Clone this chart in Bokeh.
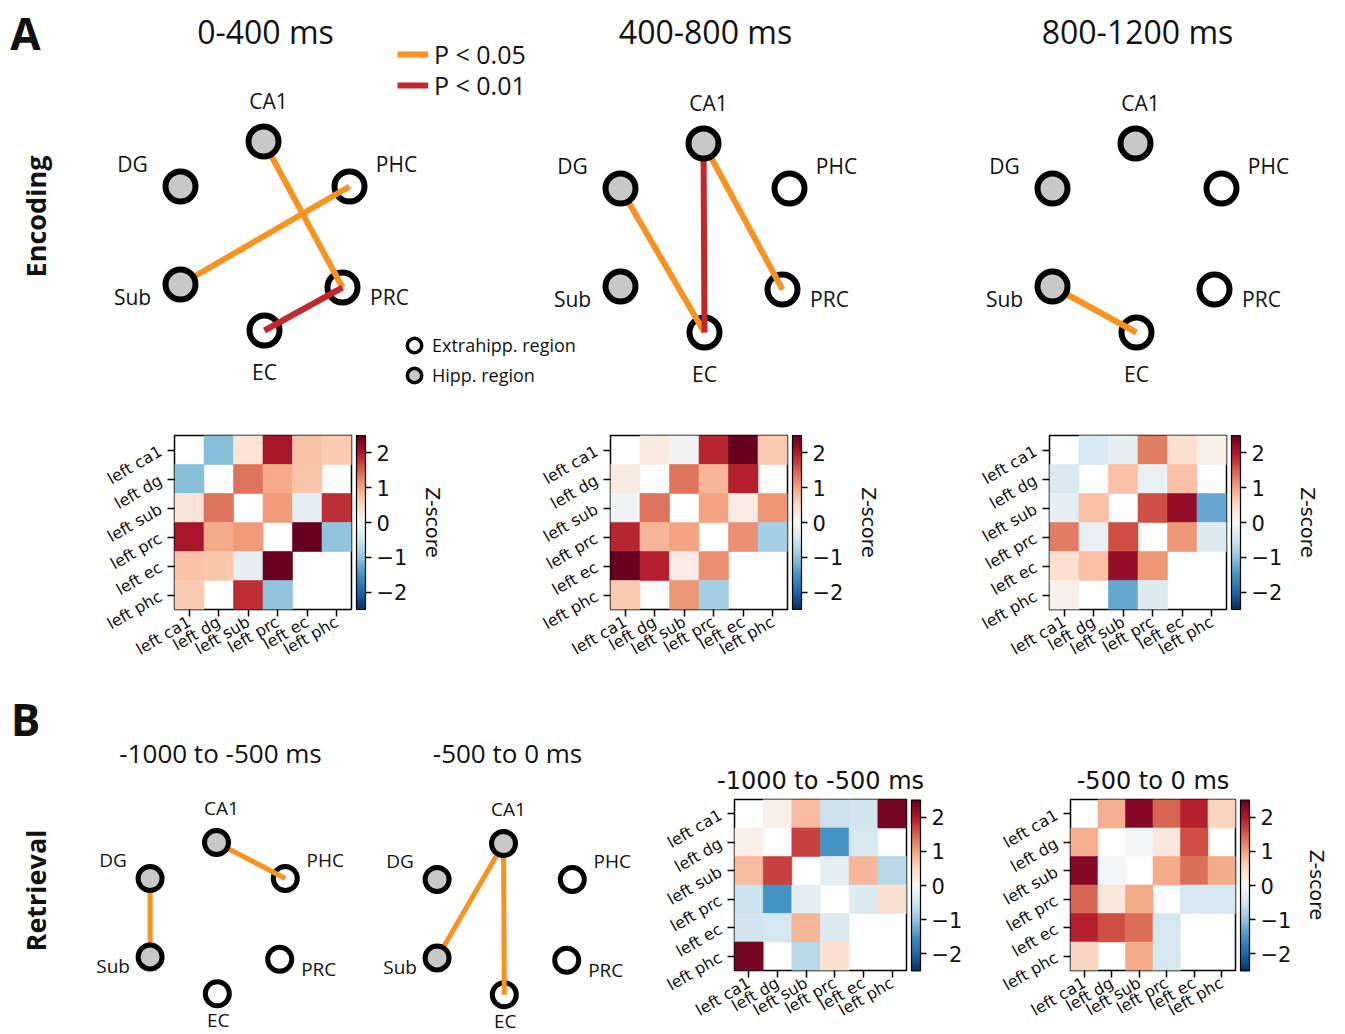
import math
import numpy as np
from bokeh.plotting import figure
from bokeh.models import (ColumnDataSource, Range1d, FactorRange, LinearColorMapper,
                          ColorBar, FixedTicker, Label, Legend, LegendItem, Title, Spacer,
                          CustomJSTickFormatter)
from bokeh.layouts import row, column
from bokeh.transform import transform
from bokeh.core.properties import value
from bokeh.embed import file_html
from bokeh.resources import INLINE

N = float("nan")

# ---------------- data ----------------
regions = ["left ca1", "left dg", "left sub", "left prc", "left ec", "left phc"]
node_names = ["CA1", "DG", "PHC", "Sub", "PRC", "EC"]
hipp_nodes = ["CA1", "DG", "Sub"]
extrahipp_nodes = ["PHC", "PRC", "EC"]

encoding_windows = ["0-400 ms", "400-800 ms", "800-1200 ms"]
retrieval_windows = ["-1000 to -500 ms", "-500 to 0 ms"]
sig_levels = ["P < 0.05", "P < 0.01"]
node_legend = ["Extrahipp. region", "Hipp. region"]

edges_enc_0_400 = [("CA1", "PRC", "P < 0.05"), ("Sub", "PHC", "P < 0.05"), ("EC", "PRC", "P < 0.01")]
edges_enc_400_800 = [("DG", "EC", "P < 0.05"), ("CA1", "EC", "P < 0.01"), ("CA1", "PRC", "P < 0.05")]
edges_enc_800_1200 = [("Sub", "EC", "P < 0.05")]
edges_ret_1000_500 = [("DG", "Sub", "P < 0.05"), ("CA1", "PHC", "P < 0.05")]
edges_ret_500_0 = [("CA1", "Sub", "P < 0.05"), ("CA1", "EC", "P < 0.05")]

z_enc_0_400 = [
    [N, -1.05, 0.35, 2.05, 0.72, 0.65],
    [-1.05, N, 1.35, 0.95, 0.68, N],
    [0.35, 1.35, N, 1.05, -0.25, 1.85],
    [2.05, 0.95, 1.05, N, 2.5, -1.0],
    [0.72, 0.68, -0.25, 2.5, N, N],
    [0.65, N, 1.85, -1.0, N, N],
]
z_enc_400_800 = [
    [N, 0.25, -0.1, 1.9, 2.5, 0.65],
    [0.25, N, 1.35, 0.85, 1.95, N],
    [-0.1, 1.35, N, 1.0, 0.2, 1.1],
    [1.9, 0.85, 1.0, N, 1.15, -0.85],
    [2.5, 1.95, 0.2, 1.15, N, N],
    [0.65, N, 1.1, -0.85, N, N],
]
z_enc_800_1200 = [
    [N, -0.4, -0.25, 1.3, 0.4, 0.15],
    [-0.4, N, 0.75, -0.2, 0.75, N],
    [-0.25, 0.75, N, 1.6, 2.2, -1.3],
    [1.3, -0.2, 1.6, N, 1.1, -0.35],
    [0.4, 0.75, 2.2, 1.1, N, N],
    [0.15, N, -1.3, -0.35, N, N],
]
z_ret_1000_500 = [
    [N, 0.15, 0.8, -0.55, -0.5, 2.4],
    [0.15, N, 1.7, -1.5, -0.45, N],
    [0.8, 1.7, N, -0.25, 0.85, -0.7],
    [-0.55, -1.5, -0.25, N, -0.35, 0.4],
    [-0.5, -0.45, 0.85, -0.35, N, N],
    [2.4, N, -0.7, 0.4, N, N],
]
z_ret_500_0 = [
    [N, 0.9, 2.3, 1.45, 1.95, 0.55],
    [0.9, N, -0.05, 0.3, 1.6, N],
    [2.3, -0.05, N, 0.95, 1.4, 0.95],
    [1.45, 0.3, 0.95, N, -0.45, -0.45],
    [1.95, 1.6, 1.4, -0.45, N, N],
    [0.55, N, 0.95, -0.45, N, N],
]
cbar_ticks = [-2, -1, 0, 1, 2]
z_limit = 2.5

# ---------------- style / layout ----------------
RDBU_ANCHORS = ["#053061", "#2166ac", "#4393c3", "#92c5de", "#d1e5f0", "#f7f7f7",
                "#fddbc7", "#f4a582", "#d6604d", "#b2182b", "#67001f"]


def interp_palette(anchors, n):
    rgb = [tuple(int(h[i:i + 2], 16) for i in (1, 3, 5)) for h in anchors]
    out = []
    for k in range(n):
        t = k / (n - 1) * (len(rgb) - 1)
        i = min(int(t), len(rgb) - 2)
        f = t - i
        c = [round(rgb[i][j] + (rgb[i + 1][j] - rgb[i][j]) * f) for j in range(3)]
        out.append("#%02x%02x%02x" % tuple(c))
    return out


PALETTE = interp_palette(RDBU_ANCHORS, 255)
EDGE_COLORS = {"P < 0.05": "#F7931E", "P < 0.01": "#C1272D"}
HIPP_FILL = "#c8c8c8"
NET_FONT = "Open Sans"
HM_FONT = "DejaVu Sans"
INK = "#111111"

NODE_OFFSETS = {"CA1": (0, 0), "DG": (-83, 45), "PHC": (86, 45),
                "Sub": (-83, 143), "PRC": (79, 146), "EC": (1, 189)}
LABEL_OFFSETS_A = {"CA1": (5, -41), "DG": (-48, -23), "PHC": (47, -23),
                   "Sub": (-48, 12), "PRC": (47, 9), "EC": (0, 41)}
LABEL_OFFSETS_B = {"CA1": (5, -35), "DG": (-37, -19), "PHC": (40, -19),
                   "Sub": (-37, 9), "PRC": (39, 10), "EC": (1, 26)}
A_ANCHORS = [(263, 141), (703, 143), (1135, 143)]
B_ANCHORS = [(216, 842), (503, 843)]


def draw_networks(p, anchors, edge_sets, scale, label_offsets, node_size, ring_w, edge_w, font_size):
    white = dict(x=[], y=[])
    gray = dict(x=[], y=[])
    labels = dict(x=[], y=[], text=[])
    edges = {lvl: dict(x0=[], y0=[], x1=[], y1=[]) for lvl in sig_levels}
    for (ax, ay), eset in zip(anchors, edge_sets):
        pos = {n: (ax + dx * scale, ay + dy * scale) for n, (dx, dy) in NODE_OFFSETS.items()}
        for n in node_names:
            tgt = gray if n in hipp_nodes else white
            tgt["x"].append(pos[n][0])
            tgt["y"].append(pos[n][1])
            lx, ly = label_offsets[n]
            labels["x"].append(pos[n][0] + lx)
            labels["y"].append(pos[n][1] + ly)
            labels["text"].append(n)
        for a, b, lvl in eset:
            e = edges[lvl]
            e["x0"].append(pos[a][0]); e["y0"].append(pos[a][1])
            e["x1"].append(pos[b][0]); e["y1"].append(pos[b][1])
    r_white = p.scatter(x="x", y="y", source=ColumnDataSource(white), marker="circle",
                        size=node_size, fill_color="white", line_color="black", line_width=ring_w)
    r_edges = {}
    for lvl in sig_levels:
        r_edges[lvl] = p.segment(x0="x0", y0="y0", x1="x1", y1="y1",
                                 source=ColumnDataSource(edges[lvl]),
                                 line_color=EDGE_COLORS[lvl], line_width=edge_w)
    r_gray = p.scatter(x="x", y="y", source=ColumnDataSource(gray), marker="circle",
                       size=node_size, fill_color=HIPP_FILL, line_color="black", line_width=ring_w)
    p.text(x="x", y="y", text="text", source=ColumnDataSource(labels),
           text_font=value(NET_FONT), text_font_size=font_size, text_color=INK,
           text_align="center", text_baseline="middle")
    return r_white, r_gray, r_edges


def blank_canvas(width, height, x0, y0):
    p = figure(width=width, height=height, x_range=Range1d(x0, x0 + width),
               y_range=Range1d(y0 + height, y0), output_backend="svg",
               toolbar_location=None, tools="", min_border=0, frame_align=False,
               x_axis_location=None, y_axis_location=None)
    p.grid.visible = False
    p.outline_line_color = None
    return p


def add_label(p, x, y, text, size, bold=False, angle=0.0, font=NET_FONT):
    p.add_layout(Label(x=x, y=y, text=text, angle=angle, text_font=font,
                       text_font_size=size, text_font_style="bold" if bold else "normal",
                       text_color=INK, text_align="center", text_baseline="middle"))


def single_legend(p, label, renderer, loc, glyph_w, glyph_h, standoff, size):
    p.add_layout(Legend(items=[LegendItem(label=label, renderers=[renderer])],
                        location=loc, glyph_width=glyph_w, glyph_height=glyph_h,
                        label_standoff=standoff, spacing=0, padding=0, margin=0,
                        label_text_font=NET_FONT, label_text_font_size=size,
                        label_text_color=INK, background_fill_alpha=0, border_line_alpha=0))


mapper = LinearColorMapper(palette=PALETTE, low=-z_limit, high=z_limit)


def heatmap(z, frame_w, frame_h, L, R, T, B, title=None, zlabel=False, bar_w=9, bar_gap=5):
    p = figure(width=L + frame_w + R, height=T + frame_h + B,
               x_range=FactorRange(factors=regions), y_range=FactorRange(factors=regions[::-1]),
               output_backend="svg", toolbar_location=None, tools="", frame_align=False,
               min_border_left=L, min_border_right=R, min_border_top=T, min_border_bottom=B)
    xs, ys, zs = [], [], []
    for i, rname in enumerate(regions):
        for j, cname in enumerate(regions):
            v = z[i][j]
            if not math.isnan(v):
                xs.append(cname); ys.append(rname); zs.append(v)
    src = ColumnDataSource(dict(x=xs, y=ys, z=zs))
    p.rect(x="x", y="y", width=1, height=1, source=src,
           fill_color=transform("z", mapper), line_color=transform("z", mapper), line_width=0.6)
    p.grid.visible = False
    p.outline_line_color = "black"
    p.outline_line_width = 1.5
    for ax, standoff in ((p.xaxis[0], 4), (p.yaxis[0], 7)):
        ax.axis_line_color = None
        ax.major_tick_out = 7
        ax.major_tick_in = 0
        ax.major_tick_line_width = 1.5
        ax.major_tick_line_color = "black"
        ax.major_label_orientation = math.radians(30)
        ax.major_label_text_font = HM_FONT
        ax.major_label_text_font_size = "16px"
        ax.major_label_text_color = INK
        ax.major_label_standoff = standoff
    cb = ColorBar(color_mapper=mapper, ticker=FixedTicker(ticks=cbar_ticks),
                  formatter=CustomJSTickFormatter(code="return tick < 0 ? '\u2212' + Math.abs(tick) : String(tick)"),
                  width=bar_w, height=frame_h, location="center_left", margin=0, padding=bar_gap,
                  major_label_text_font=HM_FONT, major_label_text_font_size="21px",
                  major_label_text_color=INK,
                  major_tick_line_color="black", major_tick_out=6, major_tick_in=0,
                  major_tick_line_width=1.5, minor_tick_line_color=None,
                  bar_line_color="black", bar_line_width=1.2, label_standoff=5,
                  background_fill_alpha=0, border_line_color=None)
    p.add_layout(cb, "right")
    if zlabel:
        p.add_layout(Title(text="Z-score", align="center", text_font=HM_FONT,
                           text_font_size="19px", text_font_style="normal",
                           text_color=INK, standoff=12), "right")
    if title:
        p.title.text = title
        p.title.align = "center"
        p.title.text_font = HM_FONT
        p.title.text_font_size = "24px"
        p.title.text_font_style = "normal"
        p.title.text_color = INK
    return p


# ---------------- row 1: encoding networks ----------------
ROW1_H = 396
pA = blank_canvas(1340, ROW1_H, 0, 0)
rwA, rgA, reA = draw_networks(pA, A_ANCHORS, [edges_enc_0_400, edges_enc_400_800, edges_enc_800_1200],
                              1.0, LABEL_OFFSETS_A, 30, 6, 6, "21px")
add_label(pA, 25, 32, "A", "44px", bold=True)
add_label(pA, 35, 216, "Encoding", "27px", bold=True, angle=math.pi / 2)
for (ax, ay), t in zip(A_ANCHORS, encoding_windows):
    add_label(pA, ax + 2, 31, t, "32px")

# legend proxies: one NaN point each (nothing drawn on the canvas), styled at legend scale
proxy = dict(x=np.array([np.nan]), y=np.array([np.nan]))
leg_white = pA.scatter(x="x", y="y", source=ColumnDataSource(proxy), marker="circle",
                       fill_color="white", line_color="black", line_width=3.5)
leg_gray = pA.scatter(x="x", y="y", source=ColumnDataSource(dict(proxy)), marker="circle",
                      fill_color=HIPP_FILL, line_color="black", line_width=3.5)

single_legend(pA, sig_levels[0], reA[sig_levels[0]], (397, 325), 31, 26, 6, "25px")
single_legend(pA, sig_levels[1], reA[sig_levels[1]], (397, 294), 31, 26, 6, "25px")
single_legend(pA, node_legend[0], leg_white, (396, 31), 36, 40, 0, "18px")
single_legend(pA, node_legend[1], leg_gray, (396, 1), 36, 40, 0, "18px")

# ---------------- row 2: encoding heatmaps ----------------
R2_H = 275
hA1 = heatmap(z_enc_0_400, 177, 174, 80, 100, 39, 62, zlabel=True)
hA2 = heatmap(z_enc_400_800, 177, 174, 80, 100, 39, 62, zlabel=True)
hA3 = heatmap(z_enc_800_1200, 177, 174, 80, 100, 39, 62, zlabel=True)
row2 = row(Spacer(width=94, height=R2_H), hA1, Spacer(width=79, height=R2_H), hA2,
           Spacer(width=82, height=R2_H), hA3)

# ---------------- row 3: retrieval ----------------
R3_TOP = ROW1_H + R2_H
R3_H = 362
pB = blank_canvas(654, R3_H, 0, R3_TOP)
draw_networks(pB, B_ANCHORS, [edges_ret_1000_500, edges_ret_500_0], 0.8, LABEL_OFFSETS_B,
              24, 5, 5, "19px")
add_label(pB, 25, 718, "B", "44px", bold=True)
add_label(pB, 35, 890, "Retrieval", "27px", bold=True, angle=math.pi / 2)
for (ax, ay), t in zip(B_ANCHORS, retrieval_windows):
    add_label(pB, ax + 4, 752, t, "26px")

hB1 = heatmap(z_ret_1000_500, 172, 171, 80, 84, 128, 63, title=retrieval_windows[0], zlabel=False)
hB2 = heatmap(z_ret_500_0, 171, 171, 80, 94, 128, 63, title=retrieval_windows[1], zlabel=True)
row3 = row(pB, hB1, hB2)

layout = column(pA, row2, row3)
open("out.html", "w").write(file_html(layout, INLINE))
